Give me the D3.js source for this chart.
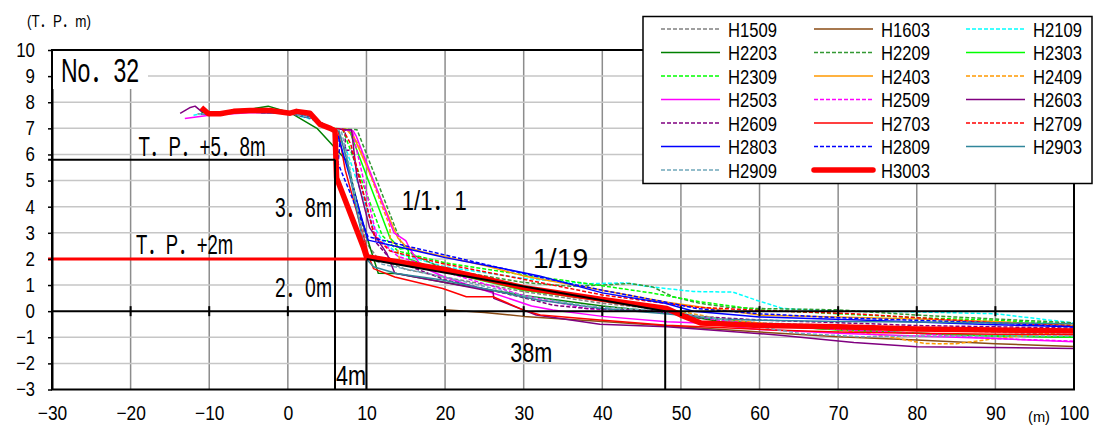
<!DOCTYPE html>
<html>
<head>
<meta charset="utf-8">
<script src="https://cdn.jsdelivr.net/npm/d3@7"></script>
<style>
  body { margin: 0; background: #fff; }
  svg { display: block; font-family: "Liberation Sans", "Noto Sans CJK JP", sans-serif; }
</style>
</head>
<body>
<svg width="1096" height="427"></svg>
<script>
const svg = d3.select('svg');
const width = +svg.attr('width');
const height = +svg.attr('height');

// axis ticks
const xTicks = [-30, -20, -10, 0, 10, 20, 30, 40, 50, 60, 70, 80, 90, 100];
const yTicks = [-3, -2, -1, 0, 1, 2, 3, 4, 5, 6, 7, 8, 9, 10];

// design section (T.P. levels and offsets, in m)
const tpHigh = 5.8;
const tpLow = 2;
const crestX = 6;
const toeX = 10;
const slopeEndX = 48;

// survey names, in legend order
const seriesNames = ['H1509', 'H1603', 'H2109', 'H2203', 'H2209', 'H2303', 'H2309',
  'H2403', 'H2409', 'H2503', 'H2509', 'H2603', 'H2609', 'H2703', 'H2709',
  'H2803', 'H2809', 'H2903', 'H2909', 'H3003'];

// profiles [distance m, elevation T.P.m]
const h1509 = [[-11.5,7.55],[-8,7.6],[-4,7.65],[0,7.6],[2.5,7.5],[4.5,7.1],[6.5,6.9],[7.2,6.2],[10,2.6],[11.5,2.0],[15,1.6],[20,1.3],[30,0.75],[40,0.3],[48,0.05],[52,-0.25],[60,-0.45],[70,-0.55],[80,-0.7],[90,-0.8],[100,-0.9]];
const h1603 = [[20,0.05],[25,-0.05],[30,-0.2],[40,-0.4],[50,-0.6],[60,-0.8],[70,-0.98],[80,-1.1],[90,-1.25],[100,-1.35]];
const h2109 = [[-12,7.5],[-10,7.62],[-4,7.65],[0,7.58],[3,7.35],[5.5,6.95],[7.3,6.3],[10.5,3.5],[12,2.7],[14,2.2],[20,1.7],[30,1.25],[38,1.05],[43,1.08],[45.6,0.95],[51.6,0.75],[56.6,0.73],[59.6,0.42],[63,0.1],[70,0.0],[80,-0.03],[90,-0.1],[100,-0.45]];
const h2203 = [[-11,7.6],[-7,7.62],[-2.5,7.85],[0.3,7.6],[3.7,7.0],[5.4,6.45],[7.5,5.75],[9.3,3.6],[10.5,2.4],[11.5,1.45],[13.8,1.44],[20,1.1],[30,0.6],[40,0.2],[48,-0.05],[55,-0.4],[60,-0.55],[70,-0.7],[80,-0.85],[90,-0.95],[100,-1.0]];
const h2209 = [[-11,7.55],[-5,7.65],[0,7.6],[3,7.4],[5.5,7.0],[8.8,6.95],[14.5,2.55],[16,2.15],[20,1.6],[30,1.1],[36,0.95],[40,1.0],[43.5,1.06],[46.4,0.93],[49,0.55],[52.4,0.3],[56,0.15],[60,0.1],[70,0.05],[80,-0.15],[90,-0.3],[100,-0.45]];
const h2303 = [[-11,7.55],[-5,7.65],[0,7.6],[3,7.4],[5.5,7.0],[7.8,6.95],[13,2.8],[14.3,2.38],[15.3,2.42],[15.4,2.0],[20,1.5],[30,0.8],[40,0.4],[48,0.05],[52,-0.2],[60,-0.5],[70,-0.72],[80,-0.85],[90,-0.95],[100,-1.0]];
const h2309 = [[-11,7.55],[-6,7.62],[0,7.6],[3,7.4],[5.5,7.0],[7,6.95],[12,2.9],[14,2.3],[20,1.85],[29.5,1.41],[38,1.06],[46.4,0.69],[52.4,0.36],[60,0.05],[70,-0.1],[80,-0.25],[90,-0.35],[100,-0.5]];
const h2403 = [[-11,7.55],[-6,7.62],[0,7.6],[3,7.4],[5.5,7.0],[8,6.95],[14,2.8],[15.1,2.46],[17.2,2.27],[25,1.75],[30,1.35],[40,0.8],[48,0.35],[55,0.05],[60,-0.15],[70,-0.22],[80,-0.3],[90,-0.4],[100,-0.55]];
const h2409 = [[-11,7.55],[-6,7.62],[0,7.6],[3,7.4],[5.5,7.0],[7.5,6.95],[9,6.4],[13,3.22],[13,2.72],[13.9,2.46],[14.3,1.82],[16.4,1.76],[20,1.5],[30,0.9],[40,0.4],[48,0.1],[55,-0.3],[60,-0.45],[70,-0.7],[76,-0.95],[81,-1.24],[85,-1.25],[90,-1.05],[100,-0.75]];
const h2503 = [[-13.1,7.38],[-10,7.5],[-5,7.6],[0,7.6],[3,7.4],[5.5,7.0],[7.3,6.95],[8.3,6.9],[8.7,6.7],[13.5,3.0],[15,2.7],[15.5,2.4],[17,1.7],[20,1.3],[25,0.8],[31,0.2],[33.7,0.04],[40,-0.2],[48.2,-0.41],[52.4,-0.45],[60,-0.7],[70,-0.85],[80,-0.95],[90,-1.05],[100,-1.17]];
const h2509 = [[-11,7.55],[-6,7.62],[0,7.6],[3,7.4],[5.5,7.0],[7,6.95],[8.2,6.9],[11.3,2.85],[12.5,2.5],[14,2.1],[20,1.5],[30,0.6],[38,0.1],[48,-0.05],[55,-0.35],[60,-0.5],[70,-0.7],[80,-0.85],[90,-1.05],[100,-1.15]];
const h2603 = [[-13.7,7.57],[-12.4,7.8],[-11.8,7.85],[-11,7.65],[-8,7.6],[-4,7.65],[0,7.6],[3,7.4],[5.5,7.0],[7.3,6.95],[8.1,6.95],[8.8,5.1],[10.4,3.2],[12.6,2.2],[13.6,1.45],[20,1.1],[26.1,0.74],[26.2,0.49],[31.6,-0.15],[39.7,-0.5],[48.2,-0.6],[62.6,-0.92],[72,-1.2],[80,-1.36],[100,-1.43]];
const h2609 = [[-11,7.55],[-6,7.62],[0,7.6],[3,7.4],[5.5,7.0],[7.3,6.95],[7.3,6.16],[8.1,6.16],[9.6,4.5],[11.3,2.6],[13,2.0],[20,1.2],[29.5,0.55],[33.7,0.23],[38,0.1],[48,0.0],[52,-0.2],[60,-0.34],[72.8,-0.47],[80,-0.55],[90,-0.6],[100,-0.65]];
const h2703 = [[-11,7.55],[-6,7.62],[0,7.6],[3,7.4],[5.5,7.0],[6.4,6.92],[7.3,5.4],[10.4,2.0],[10.9,1.63],[13.6,1.31],[19.7,0.87],[22.7,0.55],[26.1,0.55],[30,0.04],[32.1,-0.15],[39.7,-0.34],[48.2,-0.54],[62.6,-0.73],[70,-0.8],[80,-0.85],[90,-0.88],[100,-0.9]];
const h2709 = [[-11,7.55],[-6,7.62],[0,7.6],[3,7.4],[5.5,7.0],[7,6.95],[8,6.4],[11,2.9],[13,2.3],[20,1.8],[29.5,1.25],[40,0.62],[48,0.3],[52,0.15],[60,0.03],[72,-0.1],[80,-0.25],[90,-0.45],[100,-0.55]];
const h2803 = [[-11,7.55],[-6,7.62],[0,7.6],[3,7.4],[5.5,7.0],[6.4,6.7],[10.2,2.72],[15,2.4],[20,2.05],[27,1.65],[32,1.35],[40,0.7],[48,0.3],[51.6,0.0],[60,-0.22],[72.8,-0.34],[80,-0.42],[90,-0.52],[100,-0.6]];
const h2809 = [[-11,7.55],[-6,7.62],[0,7.6],[3,7.4],[5.5,7.0],[6.6,6.4],[6.4,5.65],[10.2,2.85],[15,2.5],[20,2.15],[32,1.3],[40,0.8],[48,0.35],[52,0.1],[60,-0.1],[70,-0.25],[80,-0.35],[90,-0.45],[100,-0.6]];
const h2903 = [[-11,7.55],[-6,7.62],[0,7.6],[3,7.4],[5.5,7.0],[6.5,6.9],[7.5,5.8],[10,2.0],[10.9,1.7],[13.8,1.44],[19.7,1.19],[32,0.42],[40,0.1],[48,-0.1],[55,-0.3],[60,-0.35],[70,-0.4],[80,-0.42],[90,-0.45],[100,-0.48]];
const h2909 = [[-11,7.55],[-6,7.62],[0,7.6],[3,7.4],[5.5,7.0],[6.8,6.9],[7.8,5.6],[10,2.1],[12,1.8],[20,1.3],[30,0.6],[38,0.2],[48,0.0],[55,-0.3],[60,-0.6],[65,-0.85],[72.8,-0.98],[80,-0.95],[90,-0.95],[100,-0.95]];
const h3003 = [[-11,7.8],[-10.1,7.56],[-8.6,7.56],[-6.9,7.65],[-4.8,7.68],[-2.3,7.68],[0.3,7.58],[1.1,7.65],[2.8,7.58],[4.1,7.15],[5.4,7.0],[6.0,6.9],[6.2,5.1],[9.6,2.46],[10,2.08],[20,1.6],[30,0.9],[40,0.45],[48.2,0.1],[50,-0.15],[52.5,-0.45],[60,-0.55],[70,-0.6],[80,-0.68],[90,-0.72],[100,-0.76]];

const profiles = [h1509, h1603, h2109, h2203, h2209, h2303, h2309, h2403, h2409,
  h2503, h2509, h2603, h2609, h2703, h2709, h2803, h2809, h2903, h2909, h3003];

// line styles per survey
const seriesStyle = {
  H1509: { color: '#808080', dash: true },
  H1603: { color: '#8a4b14', dash: false },
  H2109: { color: '#00ffff', dash: true },
  H2203: { color: '#008000', dash: false },
  H2209: { color: '#339933', dash: true },
  H2303: { color: '#00ff00', dash: false },
  H2309: { color: '#00ff00', dash: true },
  H2403: { color: '#ff9900', dash: false },
  H2409: { color: '#ff9900', dash: true },
  H2503: { color: '#ff00ff', dash: false },
  H2509: { color: '#ff00ff', dash: true },
  H2603: { color: '#800080', dash: false },
  H2609: { color: '#800080', dash: true },
  H2703: { color: '#ff0000', dash: false },
  H2709: { color: '#ff0000', dash: true },
  H2803: { color: '#0000ff', dash: false },
  H2809: { color: '#0000ff', dash: true },
  H2903: { color: '#31869b', dash: false },
  H2909: { color: '#70a8bb', dash: true },
  H3003: { color: '#ff0000', dash: false, width: 5.5 }
};

const margin = { top: 50, right: 22, bottom: 37.5, left: 52 };

const xScale = d3.scaleLinear()
  .domain([xTicks[0], xTicks[xTicks.length - 1]])
  .range([margin.left, width - margin.right]);

const yScale = d3.scaleLinear()
  .domain([yTicks[0], yTicks[yTicks.length - 1]])
  .range([height - margin.bottom, margin.top]);

const squeeze = (sel, w) => sel
  .attr('textLength', w)
  .attr('lengthAdjust', 'spacingAndGlyphs');

// grid
svg.append('g')
  .selectAll('line').data(xTicks.slice(1, -1))
  .enter().append('line')
    .attr('x1', d => xScale(d)).attr('x2', d => xScale(d))
    .attr('y1', yScale.range()[0]).attr('y2', yScale.range()[1])
    .attr('stroke', '#8c8c8c').attr('stroke-width', 1.5);

svg.append('g')
  .selectAll('line').data(yTicks.slice(1, -1).filter(d => d !== 0))
  .enter().append('line')
    .attr('x1', xScale.range()[0]).attr('x2', xScale.range()[1])
    .attr('y1', d => yScale(d)).attr('y2', d => yScale(d))
    .attr('stroke', '#c6c6c6').attr('stroke-width', 1.5);

// profiles
const line = d3.line()
  .x(d => xScale(d[0]))
  .y(d => yScale(d[1]));

svg.append('g')
  .selectAll('path').data(profiles)
  .enter().append('path')
    .attr('d', line)
    .attr('fill', 'none')
    .attr('stroke', (d, i) => seriesStyle[seriesNames[i]].color)
    .attr('stroke-width', (d, i) => seriesStyle[seriesNames[i]].width || 1.5)
    .attr('stroke-dasharray', (d, i) => seriesStyle[seriesNames[i]].dash ? '4,2' : null)
    .attr('stroke-linejoin', 'round');

// design section
const xLeft = xScale.domain()[0] - 0.5;
const g = svg.append('g').attr('stroke', 'black').attr('stroke-width', 2);
g.append('line')
  .attr('x1', xScale(xLeft)).attr('x2', xScale(crestX))
  .attr('y1', yScale(tpHigh)).attr('y2', yScale(tpHigh));
g.append('line')
  .attr('x1', xScale(crestX)).attr('x2', xScale(crestX))
  .attr('y1', yScale(tpHigh)).attr('y2', yScale.range()[0]);
g.append('line')
  .attr('x1', xScale(toeX)).attr('x2', xScale(toeX))
  .attr('y1', yScale(tpLow)).attr('y2', yScale.range()[0]);
g.append('line')
  .attr('x1', xScale(toeX)).attr('x2', xScale(slopeEndX))
  .attr('y1', yScale(tpLow)).attr('y2', yScale(0));
g.append('line')
  .attr('x1', xScale(slopeEndX)).attr('x2', xScale(slopeEndX))
  .attr('y1', yScale(0)).attr('y2', yScale.range()[0]);

svg.append('line')
  .attr('x1', xScale(xLeft)).attr('x2', xScale(toeX))
  .attr('y1', yScale(tpLow)).attr('y2', yScale(tpLow))
  .attr('stroke', '#ff0000').attr('stroke-width', 3);

// zero line with ticks
svg.append('line')
  .attr('x1', xScale.range()[0]).attr('x2', xScale.range()[1])
  .attr('y1', yScale(0)).attr('y2', yScale(0))
  .attr('stroke', 'black').attr('stroke-width', 2);
svg.append('g')
  .selectAll('line').data(xTicks.slice(1, -1))
  .enter().append('line')
    .attr('x1', d => xScale(d)).attr('x2', d => xScale(d))
    .attr('y1', yScale(0) - 5).attr('y2', yScale(0) + 5)
    .attr('stroke', 'black').attr('stroke-width', 2);

// plot frame
svg.append('rect')
  .attr('x', xScale.range()[0]).attr('y', yScale.range()[1])
  .attr('width', xScale.range()[1] - xScale.range()[0])
  .attr('height', yScale.range()[0] - yScale.range()[1])
  .attr('fill', 'none').attr('stroke', 'black').attr('stroke-width', 2);

// axes
const yAxis = d3.axisLeft(yScale)
  .tickValues(yTicks)
  .tickSize(4)
  .tickSizeOuter(0)
  .tickPadding(13);

const yG = svg.append('g')
  .attr('transform', `translate(${margin.left},0)`)
  .call(yAxis);
yG.select('.domain').attr('stroke-width', 2);
yG.selectAll('.tick line').attr('stroke-width', 1.5);
yG.selectAll('text')
  .attr('font-size', 20).attr('font-family', null).attr('fill', '#000')
  .each(function () { squeeze(d3.select(this), d3.select(this).text().length * 9.4); });

const xAxis = d3.axisBottom(xScale)
  .tickValues(xTicks)
  .tickSize(0)
  .tickPadding(16);

const xG = svg.append('g')
  .attr('transform', `translate(0,${yScale.range()[0]})`)
  .call(xAxis);
xG.select('.domain').remove();
xG.selectAll('text')
  .attr('font-size', 20).attr('font-family', null).attr('fill', '#000')
  .each(function () { squeeze(d3.select(this), d3.select(this).text().length * 9.8); });

// annotation texts
const addText = (txt, x, y, size, w, anchor) => squeeze(svg.append('text')
  .attr('x', x).attr('y', y)
  .attr('font-size', size)
  .attr('text-anchor', anchor || 'start')
  .text(txt), w);

addText('(T．P．m)', 27, 27, 17, 64);
addText('(m)', 1028, 422, 15, 22);

svg.append('rect')
  .attr('x', xScale.range()[0] + 1).attr('y', yScale.range()[1] + 1)
  .attr('width', 95).attr('height', 38)
  .attr('fill', 'white');
addText('No．32', 61, 82, 33, 78);

addText('T．P．+5．8m', xScale(-19), yScale(tpHigh) - 3.5, 27, 127);
addText('T．P．+2m', xScale(-19.3), yScale(tpLow) - 5, 27, 97);
addText('3．8m', xScale(crestX) - 3, 217, 27, 57, 'end');
addText('2．0m', xScale(crestX) - 3, 297, 27, 57, 'end');
addText('4m', xScale(crestX) + 1, 385, 27, 30);
addText('1/1．1', xScale(14.5), 210, 27, 65);
addText('1/19', xScale(31.2), 268, 27, 55);
addText('38m', xScale(28.3), 362, 27, 42);

// legend
const legendColX = [661, 814, 966];
const legend = svg.append('g');
legend.append('rect')
  .attr('x', 643).attr('y', 16.5)
  .attr('width', 449).attr('height', 167)
  .attr('fill', 'white').attr('stroke', 'black').attr('stroke-width', 1.5);

const items = legend.selectAll('g.item').data(seriesNames)
  .enter().append('g')
    .attr('class', 'item')
    .attr('transform', (d, i) => `translate(${legendColX[i % 3]},${29 + Math.floor(i / 3) * 23.5})`);

items.append('line')
  .attr('x1', 0).attr('x2', 59)
  .attr('stroke', d => seriesStyle[d].color)
  .attr('stroke-width', d => seriesStyle[d].width || 1.5)
  .attr('stroke-dasharray', d => seriesStyle[d].dash ? '4,2' : null)
  .attr('stroke-linecap', d => seriesStyle[d].width ? 'round' : null);

items.append('text')
  .attr('x', 67).attr('y', 7.5)
  .attr('font-size', 20)
  .text(d => d)
  .attr('textLength', 49)
  .attr('lengthAdjust', 'spacingAndGlyphs');
</script>
</body>
</html>
